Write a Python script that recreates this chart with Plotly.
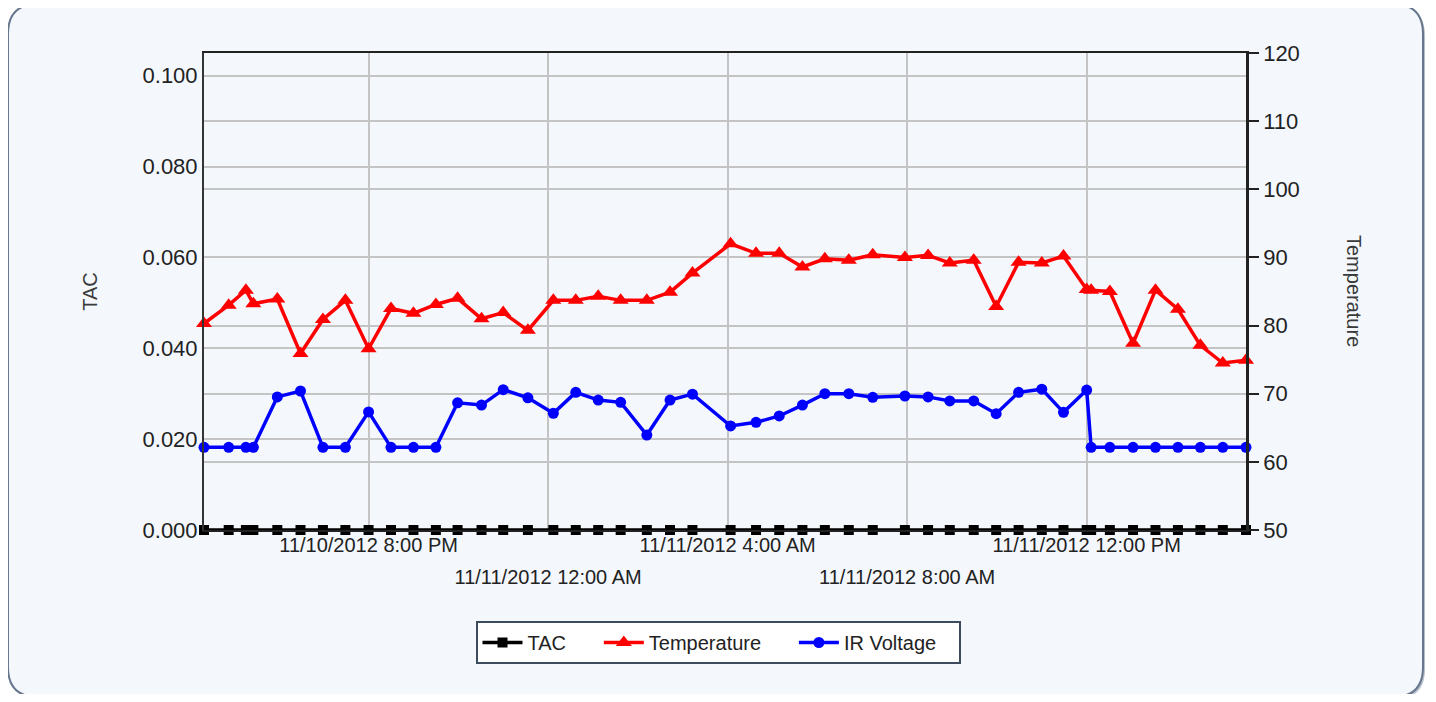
import plotly.graph_objects as go

# reading times (11/10/2012 afternoon to 11/11/2012 afternoon)
times = [
    "2012-11-10 16:20", "2012-11-10 16:53", "2012-11-10 17:16", "2012-11-10 17:26",
    "2012-11-10 17:58", "2012-11-10 18:29", "2012-11-10 18:59", "2012-11-10 19:29",
    "2012-11-10 20:00", "2012-11-10 20:30", "2012-11-10 21:00", "2012-11-10 21:30",
    "2012-11-10 21:59", "2012-11-10 22:31", "2012-11-10 23:00", "2012-11-10 23:33",
    "2012-11-11 00:07", "2012-11-11 00:37", "2012-11-11 01:07", "2012-11-11 01:37",
    "2012-11-11 02:12", "2012-11-11 02:43", "2012-11-11 03:13", "2012-11-11 04:04",
    "2012-11-11 04:38", "2012-11-11 05:09", "2012-11-11 05:40", "2012-11-11 06:10",
    "2012-11-11 06:42", "2012-11-11 07:14", "2012-11-11 07:57", "2012-11-11 08:28",
    "2012-11-11 08:57", "2012-11-11 09:29", "2012-11-11 09:59", "2012-11-11 10:29",
    "2012-11-11 11:00", "2012-11-11 11:29", "2012-11-11 12:00", "2012-11-11 12:06",
    "2012-11-11 12:31", "2012-11-11 13:02", "2012-11-11 13:32", "2012-11-11 14:02",
    "2012-11-11 14:32", "2012-11-11 15:02", "2012-11-11 15:33",
]

tac = [0.0] * 47

temperature = [
    80.3, 83.0, 85.2, 83.2, 83.9, 75.9, 80.9, 83.7, 76.6, 82.5, 81.8, 83.1,
    84.0, 81.0, 81.9, 79.3, 83.7, 83.7, 84.3, 83.7, 83.7, 84.9, 87.7, 92.0,
    90.6, 90.6, 88.6, 89.8, 89.6, 90.4, 90.0, 90.3, 89.2, 89.6, 82.8, 89.3,
    89.2, 90.2, 85.3, 85.2, 85.0, 77.4, 85.2, 82.4, 77.1, 74.5, 74.9,
]

ir_voltage = [
    0.0182, 0.0182, 0.0182, 0.0182, 0.0293, 0.0306, 0.0182, 0.0182, 0.0260, 0.0182,
    0.0182, 0.0182, 0.0280, 0.0275, 0.0309, 0.0291, 0.0257, 0.0303, 0.0286, 0.0281,
    0.0209, 0.0286, 0.0299, 0.0229, 0.0237, 0.0251, 0.0275, 0.0300, 0.0300, 0.0292,
    0.0295, 0.0293, 0.0284, 0.0284, 0.0256, 0.0303, 0.0310, 0.0259, 0.0308, 0.0182,
    0.0182, 0.0182, 0.0182, 0.0182, 0.0182, 0.0182, 0.0182,
]

tick_times_row1 = ["2012-11-10 20:00", "2012-11-11 04:00", "2012-11-11 12:00"]
tick_text_row1 = ["11/10/2012 8:00 PM", "11/11/2012 4:00 AM", "11/11/2012 12:00 PM"]
tick_times_row2 = ["2012-11-11 00:00", "2012-11-11 08:00"]
tick_text_row2 = ["11/11/2012 12:00 AM", "11/11/2012 8:00 AM"]

FONT = "Liberation Sans, Arial, sans-serif"
OFF = 8  # page body margin
W, H = 1436 - 2 * OFF, 702 - 2 * OFF
# plot area in page pixels: x 204..1246, y 53..530
L, T = 204 - OFF, 53 - OFF
R, B = W - (1246 - OFF), H - (530 - OFF)
PW, PH = W - L - R, H - T - B
NB = "\u00a0"


def to_paper(x, y):
    # page pixel -> paper coordinates
    return (x - OFF - L) / PW, (H - B - (y - OFF)) / PH


def rounded_path(x0, y0, x1, y1, r):
    pts = [
        ("M", [(x0 + r, y0)]), ("L", [(x1 - r, y0)]), ("Q", [(x1, y0), (x1, y0 + r)]),
        ("L", [(x1, y1 - r)]), ("Q", [(x1, y1), (x1 - r, y1)]),
        ("L", [(x0 + r, y1)]), ("Q", [(x0, y1), (x0, y1 - r)]),
        ("L", [(x0, y0 + r)]), ("Q", [(x0, y0), (x0 + r, y0)]),
    ]
    out = ""
    for cmd, ps in pts:
        out += cmd + " " + " ".join("%.5f,%.5f" % to_paper(px, py) for px, py in ps) + " "
    return out + "Z"


fig = go.Figure()

fig.add_trace(go.Scatter(
    x=times, y=tac, name="TAC" + NB * 5, mode="lines+markers",
    xaxis="x2", yaxis="y", cliponaxis=False,
    line=dict(color="black", width=3.5),
    marker=dict(symbol="square", size=10, color="black"),
))
fig.add_trace(go.Scatter(
    x=times, y=temperature, name="Temperature" + NB * 5, mode="lines+markers",
    xaxis="x", yaxis="y2", cliponaxis=False,
    line=dict(color="#ff0000", width=3.5),
    marker=dict(symbol="triangle-up", size=14, color="#ff0000"),
))
fig.add_trace(go.Scatter(
    x=times, y=ir_voltage, name="IR Voltage" + NB * 3, mode="lines+markers",
    xaxis="x", yaxis="y", cliponaxis=False,
    line=dict(color="#0000ff", width=3.5),
    marker=dict(symbol="circle", size=11, color="#0000ff"),
))

xrange = [times[0], times[-1]]
grid = "#c4c4c4"

fig.update_layout(
    width=W, height=H,
    margin=dict(l=L, r=R, t=T, b=B),
    paper_bgcolor="white",
    plot_bgcolor="white",
    font=dict(family=FONT, size=20, color="#222"),
    showlegend=True,
    xaxis=dict(
        type="date", range=xrange,
        tickvals=tick_times_row1 + tick_times_row2,
        ticktext=tick_text_row1 + ["", ""],
        ticks="", ticklabelstandoff=-4,
        showgrid=True, gridcolor=grid, gridwidth=1.5,
        showline=True, linecolor="#222", linewidth=2, mirror=True,
        zeroline=False, tickfont=dict(size=20, color="#222"),
    ),
    xaxis2=dict(
        type="date", range=xrange, overlaying="x", anchor="y", side="bottom",
        tickvals=tick_times_row2, ticktext=tick_text_row2,
        ticks="", ticklabelstandoff=33,
        showgrid=False, showline=False, zeroline=False,
        tickfont=dict(size=20, color="#222"),
    ),
    yaxis=dict(
        range=[0, 0.105], dtick=0.02, tickformat=".3f",
        showgrid=True, gridcolor=grid, gridwidth=1.5,
        showline=True, linecolor="#333", linewidth=2,
        zeroline=False, ticks="",
        tickfont=dict(size=22, color="#222"),
        title=dict(text="TAC", font=dict(size=20, color="#3a3a3a"), standoff=40),
    ),
    yaxis2=dict(
        range=[50, 120], dtick=10, overlaying="y", side="right", anchor="x",
        showgrid=True, gridcolor=grid, gridwidth=1.5,
        showline=True, linecolor="#222", linewidth=2.5,
        zeroline=False, ticks="outside", ticklen=10, tickwidth=2, tickcolor="#222",
        tickfont=dict(size=22, color="#222"),
    ),
    legend=dict(
        orientation="h", x=to_paper(718, 0)[0], xanchor="center",
        y=to_paper(0, 621)[1], yanchor="top",
        bgcolor="white", bordercolor="#3d4b5e", borderwidth=2,
        font=dict(size=20, color="#222"), itemwidth=40,
    ),
    annotations=[dict(
        text="Temperature", textangle=90, showarrow=False,
        xref="paper", yref="paper", x=to_paper(1354, 0)[0], y=to_paper(0, 291)[1],
        xanchor="center", yanchor="middle",
        font=dict(size=20, color="#3a3a3a"),
    )],
    shapes=[
        dict(type="path", xref="paper", yref="paper", layer="below",
             path=rounded_path(10, 6, 1425, 699, 30),
             fillcolor="#b7bfca", line=dict(width=0)),
        dict(type="path", xref="paper", yref="paper", layer="below",
             path=rounded_path(8, 4, 1423, 697, 30),
             fillcolor="#f4f8fd", line=dict(color="#66778e", width=2)),
    ],
)

fig.write_html("out.html")
